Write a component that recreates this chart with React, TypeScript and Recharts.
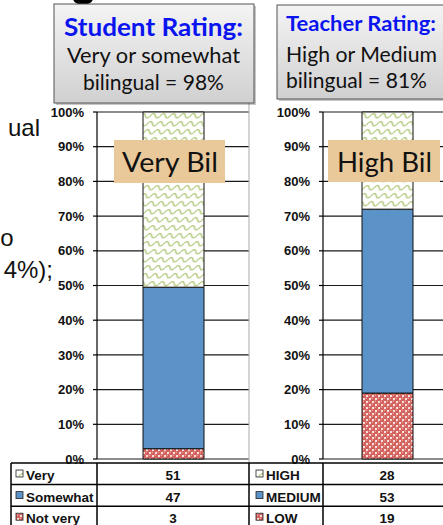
import React from 'react';
import { BarChart, Bar, XAxis, YAxis, CartesianGrid } from 'recharts';

// Survey results: how bilingual the students are, rated by themselves and by teachers
const studentLevels = ['Very', 'Somewhat', 'Not very'];
const studentCounts = [51, 47, 3];
const teacherLevels = ['HIGH', 'MEDIUM', 'LOW'];
const teacherCounts = [28, 53, 19];
const percentTicks = [0, 0.1, 0.2, 0.3, 0.4, 0.5, 0.6, 0.7, 0.8, 0.9, 1];

// fills for the top, middle and bottom level of each stack
const levelFills = ['url(#wavePattern)', '#5B93C9', 'url(#spherePattern)'];

const TICK_FONT = "'Liberation Sans', Arial, sans-serif";
const TITLE_FONT = "Lato, 'Open Sans', sans-serif";

const buildRow = (name: string, counts: number[]) => {
  const row: Record<string, string | number> = { group: name };
  counts.forEach((c, i) => {
    row['lvl' + i] = c;
  });
  return row;
};

const studentData = [buildRow('Students', studentCounts)];
const teacherData = [buildRow('Teachers', teacherCounts)];

type StackProps = {
  data: Record<string, string | number>[];
  left: number;
  width: number;
  marginLeft: number;
  marginRight: number;
  barSize: number;
};

function StackChart({ data, left, width, marginLeft, marginRight, barSize }: StackProps) {
  return (
    <div style={{ position: 'absolute', left, top: 0 }}>
      <BarChart
        width={width}
        height={470}
        data={data}
        stackOffset="expand"
        margin={{ top: 112, right: marginRight, bottom: 11, left: marginLeft }}
      >
        <CartesianGrid vertical={false} stroke="#1a1a1a" strokeWidth={1.2} />
        <XAxis dataKey="group" hide />
        <YAxis
          type="number"
          domain={[0, 1]}
          ticks={percentTicks}
          interval={0}
          width={40}
          tickSize={4}
          tickMargin={9}
          tickFormatter={(v: number) => `${Math.round(v * 100)}%`}
          tick={{ fontSize: 13, fontWeight: 'bold', fill: '#111', fontFamily: TICK_FONT }}
          axisLine={{ stroke: '#000', strokeWidth: 1.2 }}
          tickLine={{ stroke: '#000', strokeWidth: 1.2 }}
        />
        {[2, 1, 0].map((i) => (
          <Bar
            key={i}
            dataKey={'lvl' + i}
            stackId="rating"
            fill={levelFills[i]}
            stroke="#111"
            strokeWidth={1}
            barSize={barSize}
            isAnimationActive={false}
          />
        ))}
      </BarChart>
    </div>
  );
}

type BoxProps = {
  x: number;
  y: number;
  w: number;
  h: number;
  lines: { text: string; x: number; y: number; len: number; size: number; bold?: boolean; blue?: boolean; anchor?: 'start' | 'middle' }[];
};

function TitleBox({ x, y, w, h, lines }: BoxProps) {
  return (
    <g>
      <rect x={x + 2} y={y + 2} width={w} height={h} fill="#000" opacity={0.22} />
      <rect x={x} y={y} width={w} height={h} fill="url(#boxGradient)" stroke="#555" strokeWidth={1} />
      {lines.map((l) => (
        <text
          key={l.text}
          x={l.x}
          y={l.y}
          textAnchor={l.anchor || 'start'}
          textLength={l.len}
          lengthAdjust="spacingAndGlyphs"
          fontFamily={TITLE_FONT}
          fontSize={l.size}
          fontWeight={l.bold ? 700 : 400}
          fill={l.blue ? '#0A14F0' : '#111'}
        >
          {l.text}
        </text>
      ))}
    </g>
  );
}

function LevelTable({ levels, counts, x0, xSplit, xEnd, valueX, keyX }: {
  levels: string[]; counts: number[]; x0: number; xSplit: number; xEnd: number; valueX: number; keyX: number;
}) {
  const top = 463;
  const rowH = 21.6;
  return (
    <g fontFamily={TICK_FONT} fontWeight="bold" fontSize={13.5} fill="#111">
      {levels.map((lvl, i) => {
        const y = top + i * rowH;
        return (
          <g key={lvl}>
            <line x1={x0} x2={xEnd} y1={y} y2={y} stroke="#000" strokeWidth={1.5} />
            <rect x={keyX} y={y + 7} width={7} height={7} fill={levelFills[i]} stroke="#222" strokeWidth={0.8} />
            <text x={keyX + 10} y={y + 17}>{lvl}</text>
            <text x={valueX} y={y + 17} textAnchor="middle">{counts[i]}</text>
          </g>
        );
      })}
      <line x1={x0} x2={x0} y1={top} y2={530} stroke="#000" strokeWidth={1.5} />
      <line x1={xSplit} x2={xSplit} y1={top} y2={530} stroke="#000" strokeWidth={1.5} />
    </g>
  );
}

export default function App() {
  return (
    <div style={{ position: 'fixed', left: 0, top: 0, width: 443, height: 525, overflow: 'hidden', background: '#fff' }}>
      <svg width={0} height={0} style={{ position: 'absolute' }}>
        <defs>
          <pattern id="wavePattern" width={10} height={8} patternUnits="userSpaceOnUse" patternTransform="skewX(-20)">
            <rect width={10} height={8} fill="#fff" />
            <path d="M0 6 C2.5 6 2.5 1.5 5 1.5 C7.5 1.5 7.5 6 10 6" fill="none" stroke="#9BBB59" strokeWidth={1.1} />
          </pattern>
          <pattern id="spherePattern" width={6} height={6} patternUnits="userSpaceOnUse">
            <rect width={6} height={6} fill="#fff" />
            {[
              [0, 0],
              [6, 0],
              [0, 6],
              [6, 6],
              [3, 3],
            ].map(([cx, cy]) => (
              <g key={`${cx}-${cy}`}>
                <circle cx={cx} cy={cy} r={2.25} fill="#D25F5A" />
                <circle cx={cx - 0.6} cy={cy - 0.7} r={0.7} fill="#EFA9A5" />
              </g>
            ))}
          </pattern>
          <linearGradient id="boxGradient" x1="0" y1="0" x2="0" y2="1">
            <stop offset="0%" stopColor="#F4F4F4" />
            <stop offset="100%" stopColor="#D0D0D0" />
          </linearGradient>
        </defs>
      </svg>

      <StackChart data={studentData} left={0} width={260} marginLeft={57} marginRight={11} barSize={61} />
      <StackChart data={teacherData} left={250} width={215} marginLeft={33} marginRight={14} barSize={51} />

      <svg width={443} height={525} style={{ position: 'absolute', left: 0, top: 0, pointerEvents: 'none' }}>
        {/* edge of the student plot area */}
        <line x1={249} x2={249} y1={103} y2={463} stroke="#aaa" strokeWidth={1} />

        {/* surrounding slide text */}
        <ellipse cx={83} cy={-3} rx={10.5} ry={8} fill="#000" />
        <g fontFamily={TICK_FONT} fontSize={24} fill="#111">
          <text x={40} y={136} textAnchor="end">ual</text>
          <text x={13.5} y={246} textAnchor="end">o</text>
          <text x={53} y={278} textAnchor="end">4%);</text>
        </g>

        <TitleBox
          x={54}
          y={4}
          w={200}
          h={99}
          lines={[
            { text: 'Student Rating:', x: 153.5, y: 36, len: 179, size: 25, bold: true, blue: true, anchor: 'middle' },
            { text: 'Very or somewhat', x: 153.5, y: 63, len: 173, size: 21, anchor: 'middle' },
            { text: 'bilingual = 98%', x: 153.5, y: 90, len: 141, size: 21, anchor: 'middle' },
          ]}
        />
        <TitleBox
          x={277}
          y={5}
          w={180}
          h={94}
          lines={[
            { text: 'Teacher Rating:', x: 286, y: 31, len: 150, size: 20, bold: true, blue: true },
            { text: 'High or Medium', x: 286, y: 61.5, len: 151, size: 21 },
            { text: 'bilingual = 81%', x: 286, y: 88, len: 141, size: 21 },
          ]}
        />

        {/* callouts over the bars */}
        <rect x={114} y={140} width={111} height={43} fill="#E9C99A" />
        <text x={122} y={171.5} textLength={96} lengthAdjust="spacingAndGlyphs" fontFamily={TITLE_FONT} fontSize={26} fill="#111">Very Bil</text>
        <rect x={328} y={140} width={112} height={42} fill="#E9C99A" />
        <text x={337} y={171.5} textLength={95} lengthAdjust="spacingAndGlyphs" fontFamily={TITLE_FONT} fontSize={26} fill="#111">High Bil</text>

        <LevelTable levels={studentLevels} counts={studentCounts} x0={11} xSplit={97} xEnd={249} valueX={173} keyX={16} />
        <LevelTable levels={teacherLevels} counts={teacherCounts} x0={249} xSplit={323} xEnd={450} valueX={387} keyX={256} />
      </svg>
    </div>
  );
}
